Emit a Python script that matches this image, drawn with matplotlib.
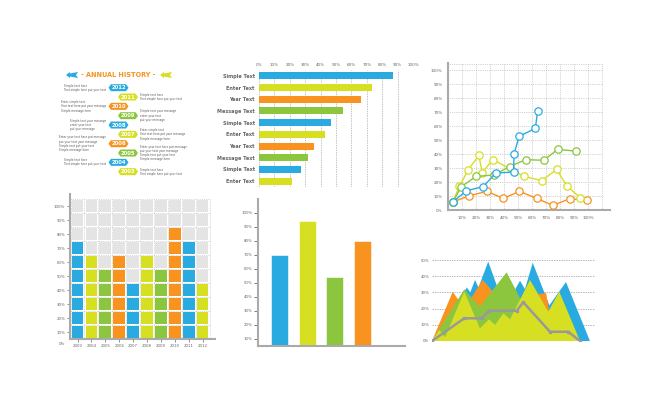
import matplotlib.pyplot as plt
import numpy as np
from matplotlib.patches import Polygon, Rectangle

W, H = 650, 397

blue = '#29abe2'
yellow = '#d7df23'
orange = '#f7931e'
green = '#8cc63f'
grey = '#999999'
txt = '#666666'

# ---- data ----
history_years = [2012, 2011, 2010, 2009, 2008, 2007, 2006, 2005, 2004, 2003]
history_colors = [blue, yellow, orange, green, blue, yellow, orange, green, blue, yellow]
history_notes = [
    'Simple text here\nText simple here put your text',
    'Simple text here\nText simple here put your text',
    'Enter simple text\nYear text here put your message\nSimple message here',
    'Simple text your message\nenter your text\nput your message',
    'Simple text your message\nenter your text\nput your message',
    'Enter simple text\nYear text here put your message\nSimple message here',
    'Enter your text here put message\nput your text your message\nSimple text put your text\nSimple message here',
    'Enter your text here put message\nput your text your message\nSimple text put your text\nSimple message here',
    'Simple text here\nText simple here put your text',
    'Simple text here\nText simple here put your text',
]

hbar_labels = ['Simple Text', 'Enter Text', 'Year Text', 'Message Text', 'Simple Text',
               'Enter Text', 'Year Text', 'Message Text', 'Simple Text', 'Enter Text']
hbar_values = [87, 73.5, 66, 54.5, 47, 43, 35.5, 31.5, 27.5, 21.5]
hbar_colors = [blue, yellow, orange, green, blue, yellow, orange, green, blue, yellow]

orange_x = [3.4, 15.3, 27.6, 39.6, 51, 63.3, 74.8, 86.8, 99.5]
orange_y = [5.7, 10.2, 13.3, 8.3, 13.3, 8.3, 3.3, 7.9, 7.1]
yellow_x = [3.4, 8.2, 14.4, 22, 24.5, 32, 54.4, 67, 77.7, 85, 94.5]
yellow_y = [5.7, 17, 28.6, 39, 26.7, 36, 24, 21, 29, 17, 8.8]
green_x = [3.4, 9.6, 20, 32.9, 44, 55.6, 68.3, 78.4, 91.6]
green_y = [5.7, 16.7, 24, 25, 31, 36, 35.5, 43.3, 42]
blue_x = [3.4, 13.2, 25.2, 34, 46.8, 47.2, 50.8, 62.4, 64]
blue_y = [5.7, 13.8, 16.7, 26.4, 27.1, 40.2, 52.6, 58.3, 70.7]

grid_years = ['2003', '2004', '2005', '2006', '2007', '2008', '2009', '2010', '2011', '2012']
grid_counts = [7, 6, 5, 6, 4, 6, 5, 8, 7, 4]
grid_colors = [blue, yellow, green, orange, blue, yellow, green, orange, blue, yellow]

vbar_values = [70, 94, 54, 80]
vbar_colors = [blue, yellow, green, orange]

mount_blue_x = [5, 21.3, 23.5, 26.4, 28.5, 34.5, 42, 50, 54, 57, 61.8, 72, 82.2, 96.9]
mount_blue_y = [0, 33.1, 30, 37.7, 33, 49, 28, 30, 37.2, 32, 48.3, 22, 36.4, 0]
mount_orange_x = [0, 12.7, 20, 31, 45, 58, 70, 72, 80, 88]
mount_orange_y = [0, 30.4, 20, 37.7, 22, 28, 29.6, 18, 25, 0]
mount_green_x = [0, 19.8, 29.4, 45.8, 53, 62, 70]
mount_green_y = [0, 31.9, 21.2, 42.4, 28.4, 10, 0]
mount_yellow_x = [0, 4.5, 8, 19.8, 29.4, 35, 38.7, 43.8, 47.9, 60.1, 71.3, 78.1, 90.8]
mount_yellow_y = [0, 6.8, 2.3, 30.4, 7.8, 13.4, 9.9, 17.1, 13.4, 37.7, 18.1, 30.4, 0]
trend_x = [0, 19.8, 30.5, 35, 52, 56, 72.4, 83.6, 90.8]
trend_y = [0, 14, 14, 18.7, 18.7, 23.9, 5.7, 5.7, 0]


def px_axes(fig, x0, y0, x1, y1):
    return fig.add_axes([x0 / W, 1 - y1 / H, (x1 - x0) / W, (y1 - y0) / H])


fig = plt.figure(figsize=(6.5, 3.97), dpi=100)
fig.patch.set_facecolor('white')

# ---- annual history (drawn in pixel space) ----
ax0 = fig.add_axes([0, 0, 1, 1])
ax0.set_xlim(0, W)
ax0.set_ylim(H, 0)
ax0.axis('off')

ax0.text(118.5, 75, '- ANNUAL HISTORY -', color=orange, fontsize=4.7, fontweight='bold',
         ha='center', va='center')


def arrow_pts(x0, x1, yc, h):
    return [(x0, yc), (x0 + 4, yc - h / 2), (x0 + 4, yc - h / 4), (x1, yc - h / 2),
            (x1 - 2, yc), (x1, yc + h / 2), (x0 + 4, yc + h / 4), (x0 + 4, yc + h / 2)]


ax0.add_patch(Polygon(arrow_pts(66, 78, 75, 6), closed=True, color=blue, lw=0))
ax0.add_patch(Polygon(arrow_pts(160, 172, 75, 6), closed=True, color=yellow, lw=0))

for i, (yr, col, note) in enumerate(zip(history_years, history_colors, history_notes)):
    yc = 87.7 + i * 9.33
    xc = 118.5 if i % 2 == 0 else 128
    w, h = 20, 7
    pts = [(xc - w / 2, yc), (xc - w / 2 + 2.5, yc - h / 2), (xc + w / 2 - 2.5, yc - h / 2),
           (xc + w / 2, yc), (xc + w / 2 - 2.5, yc + h / 2), (xc - w / 2 + 2.5, yc + h / 2)]
    ax0.add_patch(Polygon(pts, closed=True, color=col, lw=0))
    ax0.text(xc, yc, str(yr), color='white', fontsize=3.8, fontweight='bold',
             ha='center', va='center')
    if i % 2 == 0:
        ax0.text(106, yc, note, fontsize=2.0, color='#555555', ha='right', va='center',
                 multialignment='left', linespacing=1.1)
    else:
        ax0.text(140, yc, note, fontsize=2.0, color='#555555', ha='left', va='center',
                 linespacing=1.1)

# ---- horizontal bars ----
ax1 = px_axes(fig, 259, 70, 413, 187)
pos = np.arange(len(hbar_values))
ax1.barh(pos, hbar_values, height=0.6, color=hbar_colors, zorder=3)
ax1.set_xlim(0, 100)
ax1.set_ylim(9.5, -0.5)
for v in range(0, 101, 10):
    ax1.axvline(v, color='#aaaaaa', lw=0.5, ls=(0, (2, 1.5)), zorder=1)
ax1.xaxis.tick_top()
ax1.set_xticks(range(0, 101, 10))
ax1.set_xticklabels([f'{v}%' for v in range(0, 101, 10)])
ax1.set_yticks(pos)
ax1.set_yticklabels(hbar_labels, fontweight='bold')
ax1.tick_params(axis='x', labelsize=3, colors=txt, length=0, pad=2)
ax1.tick_params(axis='y', labelsize=3.5, colors=txt, length=0, pad=3)
for s in ax1.spines.values():
    s.set_visible(False)

# ---- line chart ----
ax2 = px_axes(fig, 448, 63, 610, 210)
ax2.set_xlim(0, 162 / 14 * 10)
ax2.set_ylim(0, 105)
for v in range(10, 111, 10):
    ax2.plot([v, v], [0, 104], color='#aaaaaa', lw=0.5, ls=':', zorder=1)
for v in list(range(10, 101, 10)) + [104]:
    ax2.plot([0, 110], [v, v], color='#aaaaaa', lw=0.5, ls=':', zorder=1)
for xs, ys, col in [(orange_x, orange_y, orange), (yellow_x, yellow_y, yellow),
                    (green_x, green_y, green), (blue_x, blue_y, blue)]:
    ax2.plot(xs, ys, color=col, lw=1.0, marker='o', markersize=5.3, markerfacecolor='white',
             markeredgecolor=col, markeredgewidth=0.9, zorder=3, clip_on=False)
ax2.set_xticks(range(10, 101, 10))
ax2.set_xticklabels([f'{v}%' for v in range(10, 101, 10)])
ax2.set_yticks(range(0, 101, 10))
ax2.set_yticklabels([f'{v}%' for v in range(0, 101, 10)])
ax2.tick_params(labelsize=3, colors=txt, length=0, pad=4)
for s in ['top', 'right']:
    ax2.spines[s].set_visible(False)
for s in ['left', 'bottom']:
    ax2.spines[s].set_color('#aaaaaa')
    ax2.spines[s].set_linewidth(1.5)

# ---- grid of squares ----
ax3 = px_axes(fig, 70, 194, 215, 339)
ax3.set_xlim(-0.54, 9.89)
ax3.set_ylim(0, 145 / 14)
for i, (n, col) in enumerate(zip(grid_counts, grid_colors)):
    for r in range(10):
        fc = col if r < n else '#e4e4e4'
        ax3.add_patch(Rectangle((i - 0.42, r + 0.06), 0.84, 0.88, facecolor=fc, lw=0, zorder=2))
for r in range(0, 11):
    ax3.plot([-0.5, 9.5], [r, r], color='#b5b5b5', lw=0.5, ls=':', zorder=3)
for c in np.arange(-0.5, 10, 1):
    ax3.plot([c, c], [0, 10], color='#b5b5b5', lw=0.5, ls=':', zorder=3)
ax3.set_xticks(range(10))
ax3.set_xticklabels(grid_years)
ax3.set_yticks(np.arange(0.5, 10, 1))
ax3.set_yticklabels([f'{v}%' for v in range(10, 101, 10)])
ax3.tick_params(labelsize=2.8, colors=txt, length=2, width=0.5, pad=1.5)
ax3.text(-0.9, -0.35, '0%', fontsize=2.8, color=txt, ha='right', va='center')
for s in ['top', 'right']:
    ax3.spines[s].set_visible(False)
for s in ['left', 'bottom']:
    ax3.spines[s].set_color('#aaaaaa')
    ax3.spines[s].set_linewidth(1.5)

# ---- vertical bars ----
ax4 = px_axes(fig, 258, 199, 405, 346)
vpos = np.arange(len(vbar_values))
ax4.bar(vpos, np.array(vbar_values) - 5, bottom=5, width=0.61, color=vbar_colors,
        edgecolor='white', linewidth=0.4)
ax4.set_xlim(-0.776, 4.53)
ax4.set_ylim(5, 110)
ax4.set_xticks([])
ax4.set_yticks(range(10, 101, 10))
ax4.set_yticklabels([f'{v}%' for v in range(10, 101, 10)])
ax4.tick_params(labelsize=2.8, colors=txt, length=3, width=0.6, pad=1)
for s in ['top', 'right']:
    ax4.spines[s].set_visible(False)
for s in ['left', 'bottom']:
    ax4.spines[s].set_color('#aaaaaa')
    ax4.spines[s].set_linewidth(1.5)

# ---- mountains ----
ax5 = px_axes(fig, 432, 260, 595, 341)
ax5.set_xlim(0, 100)
ax5.set_ylim(0, 50)
for v in range(0, 51, 10):
    ax5.axhline(v, color='#999999', lw=0.5, ls=(0, (2, 1.5)), zorder=1)
for xs, ys, col in [(mount_blue_x, mount_blue_y, blue), (mount_orange_x, mount_orange_y, orange),
                    (mount_green_x, mount_green_y, green), (mount_yellow_x, mount_yellow_y, yellow)]:
    ax5.fill(xs, ys, color=col, lw=0, zorder=2)
ax5.plot(trend_x, trend_y, color=grey, lw=1.8, marker='s', markersize=2, zorder=4)
ax5.set_xticks([])
ax5.set_yticks(range(0, 51, 10))
ax5.set_yticklabels([f'{v}%' for v in range(0, 51, 10)])
ax5.tick_params(labelsize=2.8, colors=txt, length=0, pad=2)
for s in ax5.spines.values():
    s.set_visible(False)

fig.savefig('out.png', dpi=100, facecolor='white')
